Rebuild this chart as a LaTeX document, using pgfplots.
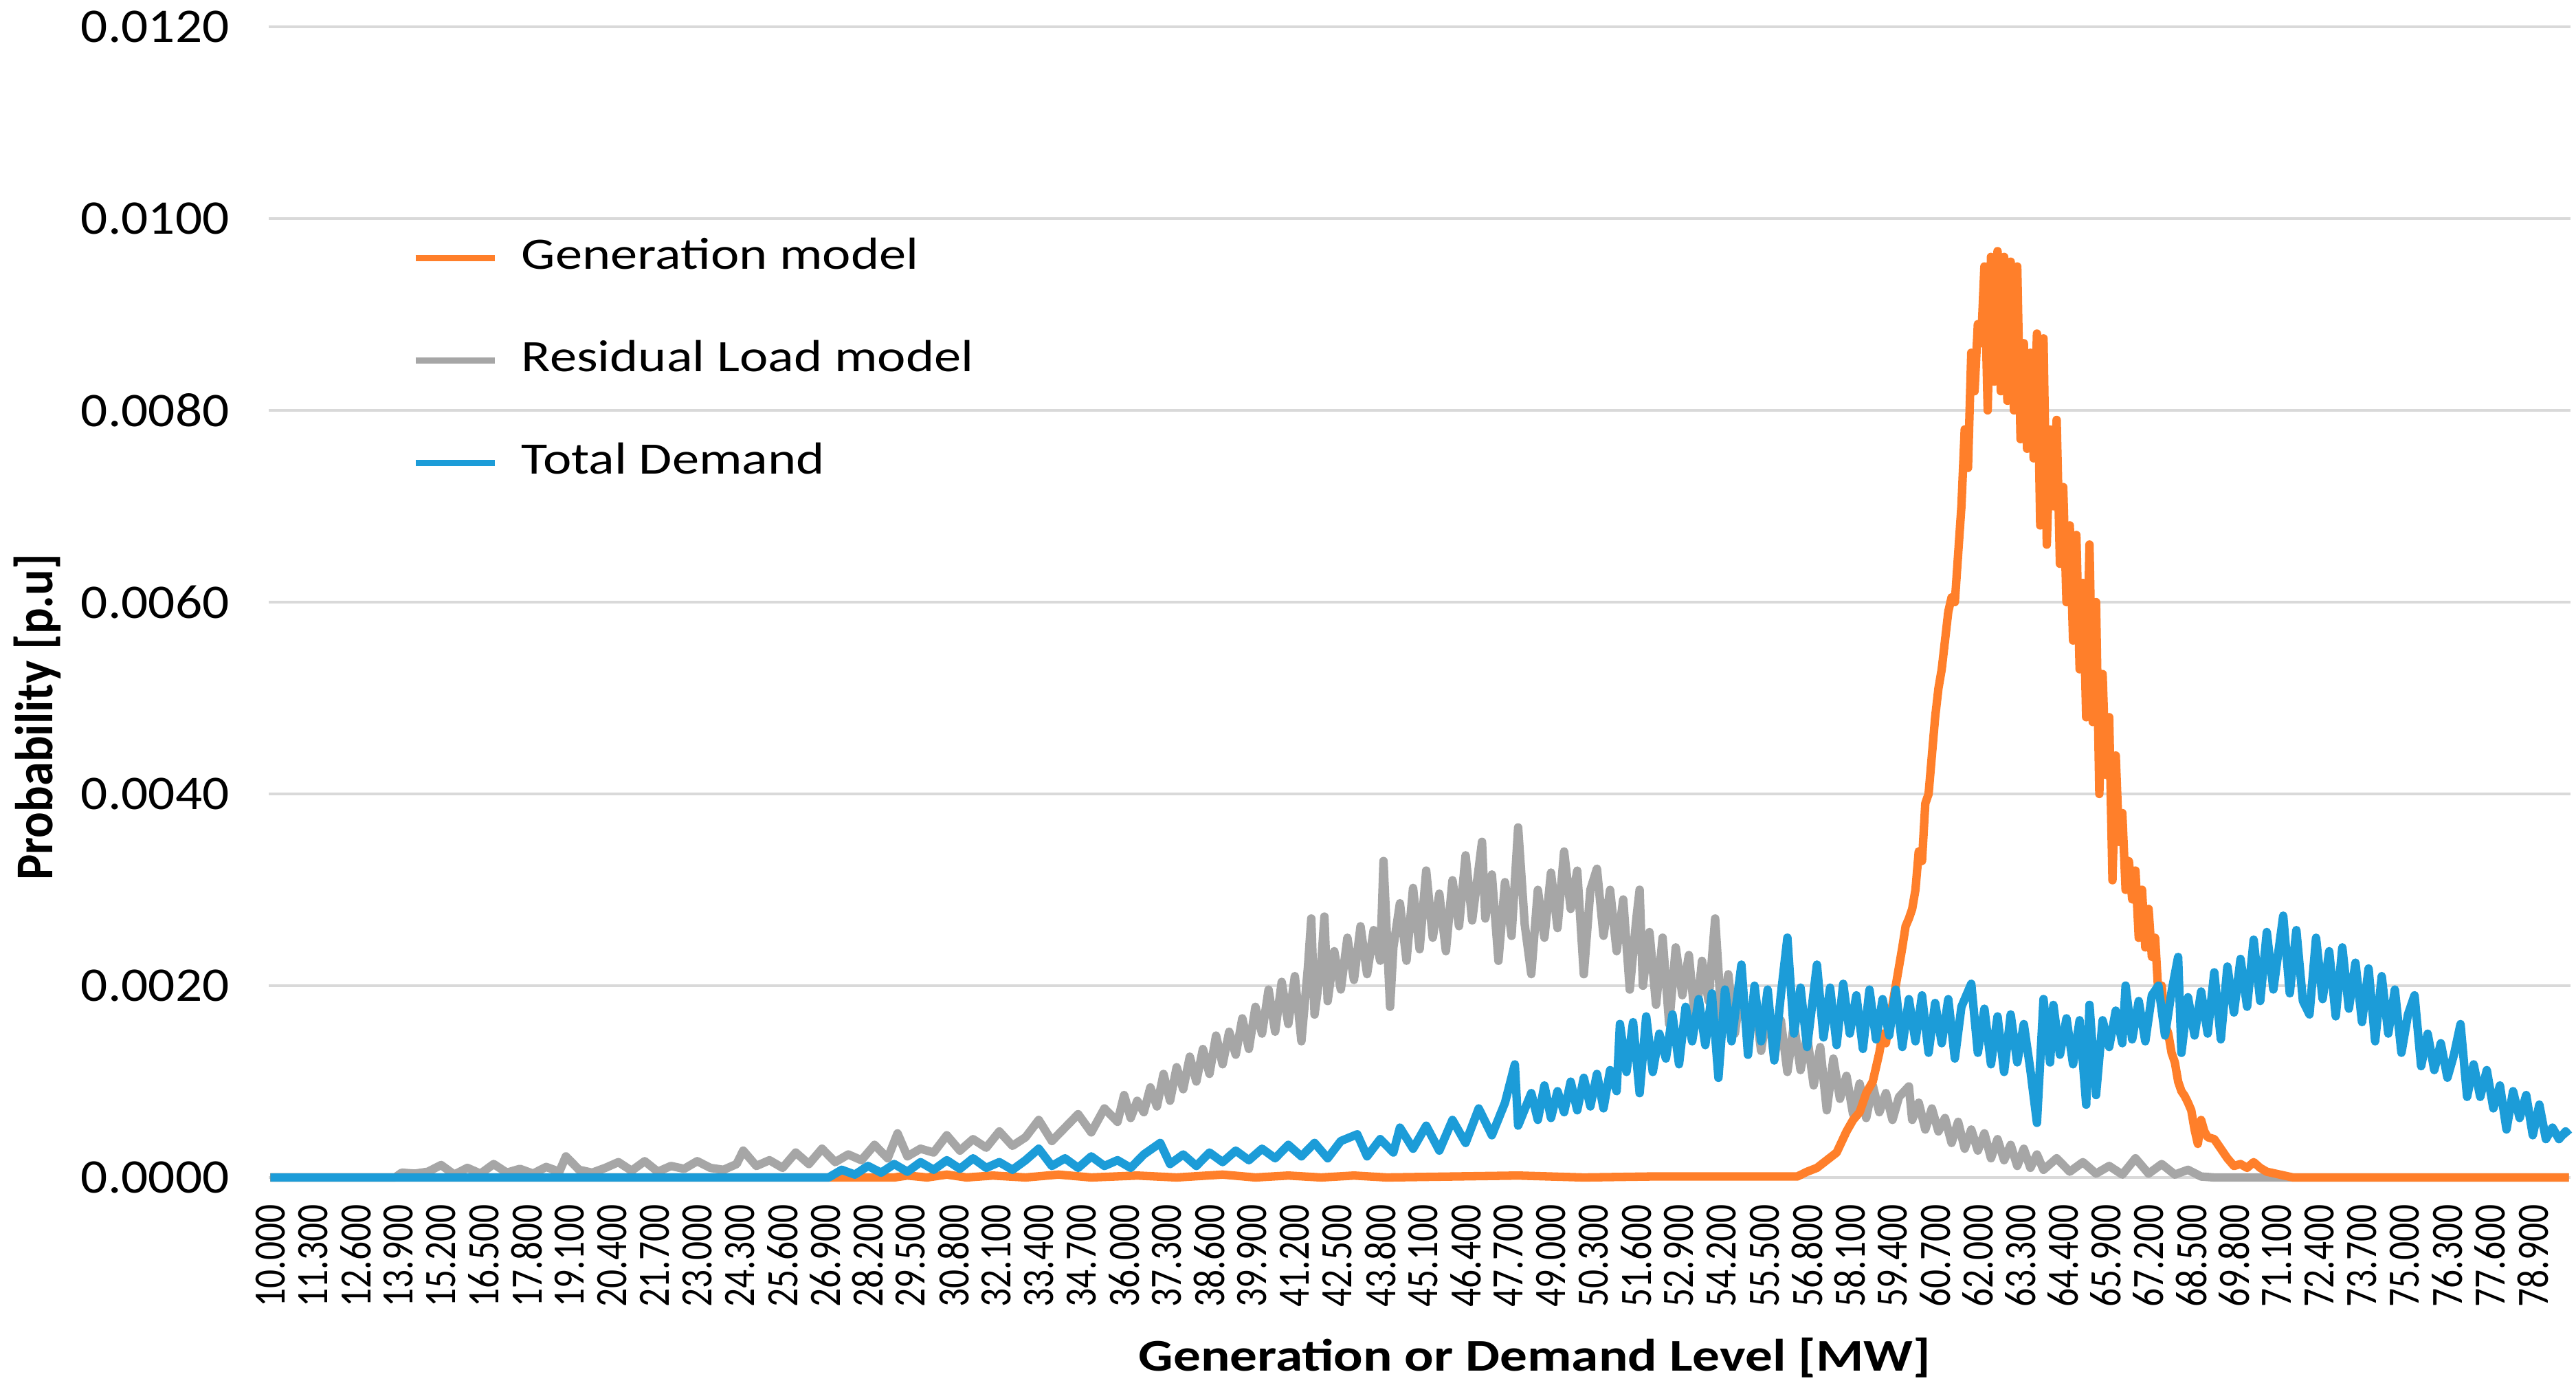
\documentclass[border=0pt]{standalone}
\usepackage{pgfplots}
\pgfplotsset{compat=1.18}
\usepackage{fontspec}
\setmainfont{Carlito}

\definecolor{genorange}{RGB}{255,127,42}
\definecolor{resgray}{RGB}{166,166,166}
\definecolor{demblue}{RGB}{28,156,216}
\definecolor{gridgray}{RGB}{217,217,217}

\begin{document}
\begin{tikzpicture}
\begin{axis}[
    at={(0,0)}, anchor=south west,
    scale only axis,
    width=167.45mm, height=83.7mm,
    xmin=9.95, xmax=80.05,
    ymin=0, ymax=0.012,
    clip=false,
    axis line style={draw=none},
    major tick length=0pt,
    ymajorgrids,
    grid style={gridgray, line width=0.7pt},
    xtick={10,11.3,12.6,13.9,15.2,16.5,17.8,19.1,20.4,21.7,23.0,24.3,25.6,26.9,28.2,29.5,30.8,32.1,33.4,34.7,36.0,37.3,38.6,39.9,41.2,42.5,43.8,45.1,46.4,47.7,49.0,50.3,51.6,52.9,54.2,55.5,56.8,58.1,59.4,60.7,62.0,63.3,64.6,65.9,67.2,68.5,69.8,71.1,72.4,73.7,75.0,76.3,77.6,78.9},
    xticklabels={10.000,11.300,12.600,13.900,15.200,16.500,17.800,19.100,20.400,21.700,23.000,24.300,25.600,26.900,28.200,29.500,30.800,32.100,33.400,34.700,36.000,37.300,38.600,39.900,41.200,42.500,43.800,45.100,46.400,47.700,49.000,50.300,51.600,52.900,54.200,55.500,56.800,58.100,59.400,60.700,62.000,63.300,64.400,65.900,67.200,68.500,69.800,71.100,72.400,73.700,75.000,76.300,77.600,78.900},
    ytick={0,0.002,0.004,0.006,0.008,0.010,0.012},
    yticklabels={0.0000,0.0020,0.0040,0.0060,0.0080,0.0100,0.0120},
    scaled y ticks=false,
    xticklabel style={yshift=-1.9mm, rotate=90, anchor=east, inner sep=0pt, yscale=1.22, font=\fontsize{7.6}{8}\selectfont},
    yticklabel style={xshift=-2.8mm, anchor=east, inner sep=0pt, xscale=1.1, font=\fontsize{10}{12}\selectfont},
    xlabel={\scalebox{1.2}[1]{Generation or Demand Level [MW]}},
    xlabel style={at={(axis description cs:0.55,-0.1565)}, anchor=center, font=\fontsize{9.4}{11}\selectfont\bfseries},
    ylabel={\scalebox{1}[1.1]{Probability [p.u]}},
    ylabel style={at={(axis description cs:-0.1006,0.40)}, anchor=center, font=\fontsize{10}{12}\selectfont\bfseries},
    legend image code/.code={\draw[#1] (0mm,0mm) -- (5.75mm,0mm);},
    legend cell align=left,
    legend style={draw=none, fill=none, at={(axis description cs:0.0621,0.8166)}, anchor=north west,
        inner sep=0pt, column sep=1.75mm, row sep=4.65mm,
        font=\fontsize{9.3}{11}\selectfont,
        nodes={inner sep=0pt, text height=2.2mm, text depth=0.6mm}},
]

\addlegendimage{genorange, line width=1.2pt}
\addlegendentry{\scalebox{1.2}[1]{Generation model}}
\addlegendimage{resgray, line width=1.2pt}
\addlegendentry{\scalebox{1.2}[1]{Residual Load model}}
\addlegendimage{demblue, line width=1.2pt}
\addlegendentry{\scalebox{1.2}[1]{Total Demand}}

% Residual Load model
\addplot[resgray, line width=1.75pt, line join=round, forget plot] table {
x y
10.0 0
13.8 0
14.0 0.00005
14.4 0.00004
14.8 0.00006
15.2 0.00013
15.6 0.00003
16.0 0.00010
16.4 0.00004
16.8 0.00014
17.2 0.00005
17.6 0.00009
18.0 0.00004
18.4 0.00011
18.8 0.00006
19.0 0.00022
19.4 0.00008
19.8 0.00005
20.2 0.00010
20.6 0.00016
21.0 0.00007
21.4 0.00017
21.8 0.00006
22.2 0.00012
22.6 0.00009
23.0 0.00017
23.4 0.00010
23.8 0.00008
24.2 0.00014
24.4 0.00028
24.8 0.00012
25.2 0.00018
25.6 0.00010
26.0 0.00026
26.4 0.00014
26.8 0.00030
27.2 0.00016
27.6 0.00024
28.0 0.00018
28.4 0.00034
28.8 0.00020
29.1 0.00046
29.4 0.00022
29.8 0.00030
30.2 0.00026
30.6 0.00044
31.0 0.00028
31.4 0.00040
31.8 0.00031
32.2 0.00048
32.6 0.00033
33.0 0.00042
33.4 0.00060
33.8 0.00038
34.2 0.00052
34.6 0.00066
35.0 0.00047
35.4 0.00072
35.8 0.00058
36.0 0.00086
36.2 0.00062
36.4 0.00080
36.6 0.00068
36.8 0.00094
37.0 0.00074
37.2 0.00108
37.4 0.00080
37.6 0.00115
37.8 0.00092
38.0 0.00126
38.2 0.00100
38.4 0.00134
38.6 0.00108
38.8 0.00148
39.0 0.00118
39.2 0.00152
39.4 0.00128
39.6 0.00166
39.8 0.00134
40.0 0.00178
40.2 0.00150
40.4 0.00196
40.6 0.00152
40.8 0.00204
41.0 0.00160
41.2 0.00210
41.4 0.00142
41.6 0.00220
41.7 0.00270
41.8 0.00170
42.0 0.00222
42.1 0.00272
42.2 0.00184
42.4 0.00236
42.6 0.00196
42.8 0.00250
43.0 0.00206
43.2 0.00262
43.4 0.00212
43.6 0.00258
43.8 0.00226
43.9 0.00330
44.1 0.00178
44.2 0.00240
44.4 0.00286
44.6 0.00226
44.8 0.00302
45.0 0.00238
45.2 0.00320
45.4 0.00250
45.6 0.00296
45.8 0.00236
46.0 0.00310
46.2 0.00262
46.4 0.00336
46.6 0.00268
46.9 0.00350
47.0 0.00270
47.2 0.00316
47.4 0.00226
47.6 0.00308
47.8 0.00252
48.0 0.00365
48.2 0.00264
48.4 0.00212
48.6 0.00300
48.8 0.00250
49.0 0.00318
49.2 0.00260
49.4 0.00340
49.6 0.00280
49.8 0.00320
50.0 0.00212
50.2 0.00300
50.4 0.00322
50.6 0.00252
50.8 0.00300
51.0 0.00236
51.2 0.00290
51.4 0.00196
51.6 0.00270
51.7 0.00300
51.8 0.00200
52.0 0.00256
52.2 0.00180
52.4 0.00250
52.6 0.00160
52.8 0.00240
53.0 0.00190
53.2 0.00232
53.4 0.00160
53.6 0.00226
53.8 0.00184
54.0 0.00270
54.2 0.00162
54.4 0.00212
54.6 0.00150
54.8 0.00200
55.0 0.00146
55.2 0.00186
55.4 0.00132
55.6 0.00180
55.8 0.00124
56.0 0.00164
56.2 0.00110
56.4 0.00160
56.6 0.00112
56.8 0.00148
57.0 0.00096
57.2 0.00136
57.4 0.00070
57.6 0.00124
57.8 0.00082
58.0 0.00106
58.2 0.00066
58.4 0.00098
58.6 0.00062
58.8 0.00096
59.0 0.00068
59.2 0.00088
59.4 0.00060
59.6 0.00084
59.9 0.00095
60.0 0.00060
60.2 0.00078
60.4 0.00050
60.6 0.00072
60.8 0.00048
61.0 0.00062
61.2 0.00036
61.4 0.00058
61.6 0.00030
61.8 0.00050
62.0 0.00028
62.2 0.00046
62.4 0.00020
62.6 0.00040
62.8 0.00018
63.0 0.00034
63.2 0.00012
63.4 0.00030
63.6 0.00010
63.8 0.00024
64.0 0.00008
64.4 0.00020
64.8 0.00006
65.2 0.00016
65.6 0.00004
66.0 0.00012
66.4 0.00003
66.8 0.00020
67.2 0.00004
67.6 0.00014
68.0 0.00003
68.4 0.00008
68.8 0.00001
69.2 0
80.0 0
};

% Generation model
\addplot[genorange, line width=1.75pt, line join=round, forget plot] table {
x y
10.0 0
29.0 0
29.4 0.00002
30.0 0
30.6 0.00003
31.2 0
32.0 0.00002
33.0 0
34.0 0.00003
35.0 0
36.4 0.00002
37.6 0
39.0 0.00003
40.0 0
41.0 0.00002
42.0 0
43.0 0.00002
44.0 0
48.0 0.00002
50.0 0
52.0 0.00001
56.5 0.00001
56.8 0.00006
57.1 0.00010
57.4 0.00018
57.7 0.00026
58.0 0.00048
58.2 0.00060
58.4 0.00068
58.6 0.00088
58.8 0.00100
59.0 0.00130
59.1 0.00150
59.2 0.00140
59.3 0.00165
59.4 0.00180
59.5 0.00200
59.6 0.00220
59.7 0.00240
59.8 0.00262
59.9 0.00270
60.0 0.00280
60.1 0.00300
60.2 0.00340
60.3 0.00330
60.4 0.00390
60.5 0.00400
60.6 0.00440
60.7 0.00480
60.8 0.00510
60.9 0.00530
61.0 0.00560
61.1 0.00590
61.2 0.00605
61.3 0.00600
61.4 0.00650
61.5 0.00700
61.6 0.00780
61.7 0.00740
61.8 0.00860
61.9 0.00820
62.0 0.00890
62.1 0.00870
62.2 0.00950
62.3 0.00800
62.4 0.00960
62.5 0.00830
62.6 0.00966
62.7 0.00820
62.8 0.00960
62.9 0.00810
63.0 0.00955
63.1 0.00800
63.2 0.00950
63.3 0.00770
63.4 0.00870
63.5 0.00760
63.6 0.00860
63.7 0.00750
63.8 0.00880
63.9 0.00680
64.0 0.00875
64.1 0.00660
64.2 0.00780
64.3 0.00700
64.4 0.00790
64.5 0.00640
64.6 0.00720
64.7 0.00600
64.8 0.00680
64.9 0.00560
65.0 0.00670
65.1 0.00530
65.2 0.00620
65.3 0.00480
65.4 0.00660
65.5 0.00475
65.6 0.00600
65.7 0.00400
65.8 0.00525
65.9 0.00420
66.0 0.00480
66.1 0.00310
66.2 0.00440
66.3 0.00350
66.4 0.00380
66.5 0.00300
66.6 0.00330
66.7 0.00290
66.8 0.00320
66.9 0.00250
67.0 0.00300
67.1 0.00240
67.2 0.00280
67.3 0.00230
67.4 0.00250
67.5 0.00190
67.6 0.00200
67.7 0.00160
67.8 0.00150
67.9 0.00130
68.0 0.00120
68.1 0.00100
68.2 0.00090
68.3 0.00085
68.4 0.00078
68.5 0.00070
68.6 0.00050
68.7 0.00035
68.8 0.00060
68.9 0.00048
69.0 0.00042
69.2 0.00040
69.4 0.00030
69.6 0.00020
69.8 0.00012
70.0 0.00014
70.2 0.00010
70.4 0.00016
70.6 0.00010
70.8 0.00006
71.2 0.00003
71.6 0
80.0 0
};

% Total Demand
\addplot[demblue, line width=1.75pt, line join=round, forget plot] table {
x y
10.0 0
27.0 0
27.4 0.00008
27.8 0.00003
28.2 0.00012
28.6 0.00005
29.0 0.00014
29.4 0.00006
29.8 0.00016
30.2 0.00008
30.6 0.00018
31.0 0.00009
31.4 0.00020
31.8 0.00010
32.2 0.00016
32.6 0.00008
33.0 0.00018
33.4 0.00030
33.8 0.00012
34.2 0.00020
34.6 0.00010
35.0 0.00022
35.4 0.00012
35.8 0.00018
36.2 0.00010
36.6 0.00024
37.1 0.00036
37.4 0.00014
37.8 0.00024
38.2 0.00012
38.6 0.00026
39.0 0.00016
39.4 0.00028
39.8 0.00018
40.2 0.00030
40.6 0.00020
41.0 0.00034
41.4 0.00022
41.8 0.00036
42.2 0.00020
42.6 0.00038
43.1 0.00045
43.4 0.00022
43.8 0.00040
44.2 0.00026
44.4 0.00052
44.8 0.00030
45.2 0.00054
45.6 0.00028
46.0 0.00060
46.4 0.00036
46.8 0.00072
47.2 0.00044
47.6 0.00078
47.9 0.00118
48.0 0.00054
48.4 0.00088
48.6 0.00060
48.8 0.00096
49.0 0.00062
49.2 0.00090
49.4 0.00068
49.6 0.00100
49.8 0.00070
50.0 0.00104
50.2 0.00074
50.4 0.00108
50.6 0.00072
50.8 0.00112
51.0 0.00090
51.1 0.00160
51.3 0.00110
51.5 0.00162
51.7 0.00088
51.9 0.00168
52.1 0.00110
52.3 0.00150
52.5 0.00124
52.7 0.00170
52.9 0.00118
53.1 0.00178
53.3 0.00142
53.5 0.00186
53.7 0.00138
53.9 0.00192
54.1 0.00104
54.3 0.00196
54.5 0.00142
54.8 0.00222
55.0 0.00128
55.2 0.00200
55.4 0.00142
55.6 0.00196
55.8 0.00122
56.0 0.00190
56.2 0.00250
56.4 0.00150
56.6 0.00198
56.8 0.00136
57.1 0.00222
57.3 0.00146
57.5 0.00198
57.7 0.00138
57.9 0.00202
58.1 0.00150
58.3 0.00190
58.5 0.00134
58.7 0.00196
58.9 0.00144
59.1 0.00186
59.3 0.00148
59.5 0.00196
59.7 0.00136
59.9 0.00186
60.1 0.00142
60.3 0.00190
60.5 0.00130
60.7 0.00182
60.9 0.00140
61.1 0.00186
61.3 0.00124
61.5 0.00178
61.8 0.00202
62.0 0.00130
62.2 0.00176
62.4 0.00118
62.6 0.00168
62.8 0.00110
63.0 0.00170
63.2 0.00120
63.4 0.00160
63.6 0.00112
63.8 0.00057
64.0 0.00186
64.2 0.00120
64.3 0.00180
64.5 0.00128
64.7 0.00166
64.9 0.00118
65.1 0.00164
65.3 0.00076
65.4 0.00180
65.6 0.00086
65.8 0.00164
66.0 0.00136
66.2 0.00174
66.4 0.00140
66.5 0.00200
66.7 0.00144
66.9 0.00184
67.1 0.00142
67.3 0.00190
67.5 0.00200
67.7 0.00148
67.9 0.00194
68.1 0.00230
68.2 0.00130
68.4 0.00188
68.6 0.00148
68.8 0.00194
69.0 0.00150
69.2 0.00214
69.4 0.00144
69.6 0.00220
69.8 0.00172
70.0 0.00228
70.2 0.00178
70.4 0.00248
70.6 0.00184
70.8 0.00256
71.0 0.00196
71.3 0.00273
71.5 0.00192
71.7 0.00258
71.9 0.00184
72.1 0.00170
72.3 0.00250
72.5 0.00186
72.7 0.00236
72.9 0.00168
73.1 0.00240
73.3 0.00176
73.5 0.00224
73.7 0.00162
73.9 0.00218
74.1 0.00142
74.3 0.00210
74.5 0.00150
74.7 0.00196
74.9 0.00130
75.1 0.00170
75.3 0.00190
75.5 0.00116
75.7 0.00150
75.9 0.00112
76.1 0.00140
76.3 0.00104
76.5 0.00128
76.7 0.00160
76.9 0.00084
77.1 0.00118
77.3 0.00084
77.5 0.00112
77.7 0.00072
77.9 0.00096
78.1 0.00050
78.3 0.00090
78.5 0.00062
78.7 0.00086
78.9 0.00044
79.1 0.00076
79.3 0.00040
79.5 0.00052
79.7 0.00040
79.9 0.00048
80.0 0.00044
};

\end{axis}
\pgfresetboundingbox
\path[use as bounding box] (-19.55mm,-15.75mm) rectangle (167.85mm,85.65mm);
\end{tikzpicture}
\end{document}
